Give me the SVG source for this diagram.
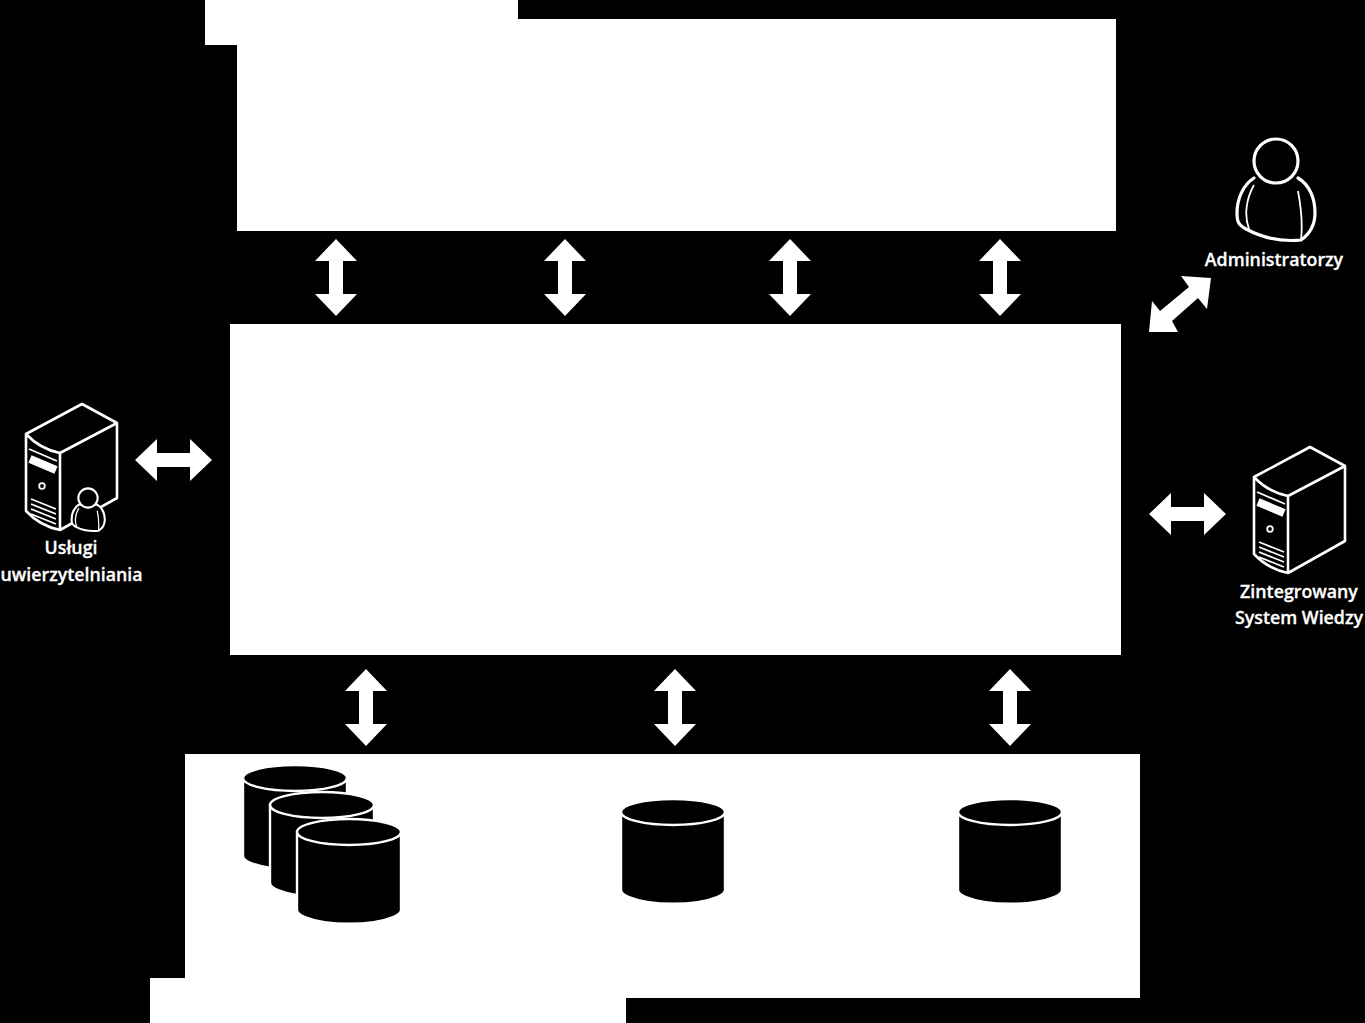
<svg xmlns="http://www.w3.org/2000/svg" width="1365" height="1023" viewBox="0 0 1365 1023">
<style>
.panel{fill:#fff}
.arrow{fill:#fff}
.line{fill:none;stroke:#fff;stroke-width:2.6;stroke-linejoin:round;stroke-linecap:round}
.heavy{fill:none;stroke:#fff;stroke-width:3.2;stroke-linejoin:round;stroke-linecap:round}
.thin{fill:none;stroke:#fff;stroke-width:1.8}
.bar{fill:none;stroke:#fff;stroke-width:8}
.cyl{fill:#000;stroke:#fff;stroke-width:2.4}
.cap{fill:#000;stroke:#fff;stroke-width:2.4}
.arc{fill:none;stroke:#fff;stroke-width:2.6}
.lbl{font-family:"Open Sans","Noto Sans",sans-serif;font-size:17.8px;font-weight:600;fill:#fff;stroke:#fff;stroke-width:0.3;text-anchor:middle}
</style>
<defs>
<path id="av" d="M0,0 L21,22 H7 V55 H21 L0,77 L-21,55 H-7 V22 H-21 Z"/>
<path id="ah" d="M0,0 L22,-21 V-7 H55 V-21 L77,0 L55,21 V7 H22 V21 Z"/>
<g id="server">
<path class="line" d="M26,434 L82,404 L117,423 L60,453 Q40,449 26,434 V511 Q40,526 60,530 V453 M60,530 L117,498 V423"/>
<path class="thin" d="M29,449 L57,461"/>
<path class="bar" d="M30,459 L56,470"/>
<circle class="thin" cx="42" cy="486" r="2.8"/>
<path class="thin" d="M31,499 L56,509 M31,504 L56,514 M31,509 L56,519 M31,514 L56,524"/>
</g>
<g id="person">
<circle class="heavy" cx="0" cy="0" r="22"/>
<path class="heavy" d="M-22,17 C-33,24 -39,38 -39,52 C-39,60 -38,64 -30,68 C-15,76 5,81 25,79 C35,72 39,62 39,52 C39,38 34,24 22,17"/>
<path class="thin" d="M-22,24 C-30,38 -32,55 -27,68 M22,30 C25,46 27,62 25,79"/>
</g>
<g id="cylinder">
<path class="cyl" d="M-52,0 V78 Q-52,82 -44,85 C-22,94 22,94 44,85 Q52,82 52,78 V0 Z"/>
<ellipse class="cap" cx="0" cy="0" rx="52" ry="13"/>
</g>
</defs>
<rect id="background" width="1365" height="1023" fill="#000"/>
<g id="panel-top"><path class="panel" d="M205,0 H518 V19 H1116 V231 H237 V45 H205 Z"/></g>
<g id="panel-middle"><rect class="panel" x="230" y="324" width="891" height="331"/></g>
<g id="panel-bottom"><path class="panel" d="M185,754 H1140 V998 H626 V1023 H150 V978 H185 Z"/></g>
<g id="connectors">
<use href="#av" class="arrow" x="336" y="239"/>
<use href="#av" class="arrow" x="565" y="239"/>
<use href="#av" class="arrow" x="790" y="239"/>
<use href="#av" class="arrow" x="1000" y="239"/>
<use href="#av" class="arrow" x="366" y="669"/>
<use href="#av" class="arrow" x="675" y="669"/>
<use href="#av" class="arrow" x="1010" y="669"/>
<use href="#ah" class="arrow" x="135" y="460"/>
<use href="#ah" class="arrow" x="1149" y="514"/>
<polygon class="arrow" points="1211,278 1207,309 1198,298 1172,321 1178,332 1149,332 1152,301 1160,311 1189,287 1181,276"/>
</g>
<g id="node-auth">
<use href="#server"/>
<g transform="translate(88,498) scale(0.42)">
<path d="M-22,16 C-34,24 -39,38 -39,52 C-39,60 -38,64 -30,68 C-15,76 5,80 25,78 C35,72 40,62 40,52 C40,38 34,24 22,16 Z" fill="#000" stroke="#fff" stroke-width="5"/>
<circle cx="0" cy="0" r="23" fill="#000" stroke="#fff" stroke-width="5"/>
<path d="M-22,24 C-30,38 -32,55 -27,68 M22,30 C25,46 27,62 25,78" fill="none" stroke="#fff" stroke-width="3"/>
</g>
<text class="lbl" x="71" y="554">Usługi</text>
<text class="lbl" x="71.500" y="581">uwierzytelniania</text>
</g>
<g id="node-admin">
<use href="#person" x="1276" y="161"/>
<text class="lbl" x="1274" y="266">Administratorzy</text>
</g>
<g id="node-zsw">
<use href="#server" x="1228" y="43"/>
<text class="lbl" x="1299" y="598">Zintegrowany</text>
<text class="lbl" x="1299" y="624">System Wiedzy</text>
</g>
<g id="node-db-cluster">
<use href="#cylinder" x="295" y="778"/>
<use href="#cylinder" x="322" y="805"/>
<use href="#cylinder" x="349" y="832"/>
</g>
<g id="node-db-2"><use href="#cylinder" x="673" y="812"/></g>
<g id="node-db-3"><use href="#cylinder" x="1010" y="812"/></g>
</svg>
